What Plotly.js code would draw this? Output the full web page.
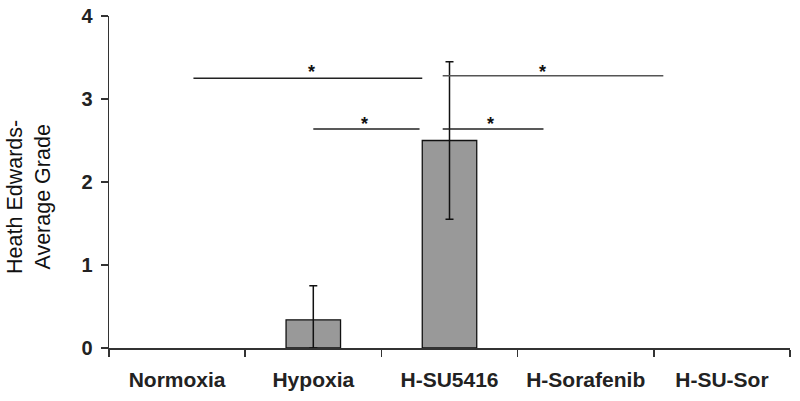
<!DOCTYPE html>
<html>
<head>
<meta charset="utf-8">
<script src="https://cdn.plot.ly/plotly-3.0.1.min.js"></script>
<style>
  html, body { margin: 0; padding: 0; background: #fff; }
  #chart { width: 800px; height: 401px; }
</style>
</head>
<body>
<div id="chart"></div>
<script>
// Heath Edwards grade per group
const categories = ["Normoxia", "Hypoxia", "H-SU5416", "H-Sorafenib", "H-SU-Sor"];
const grade = [0, 0.34, 2.5, 0, 0];
const errUp = [null, 0.41, 0.95, null, null];
const errDown = [null, 0.34, 0.95, null, null];

// significance brackets (category index from/to, grade level), star positions
const sigFrom = [0.12, 1.0, 1.95, 1.95];
const sigTo = [1.8, 1.78, 3.57, 2.69];
const sigLevel = [3.25, 2.64, 3.28, 2.64];
const starX = [0.99, 1.375, 2.68, 2.3];
const starLevel = [3.32, 2.7, 3.32, 2.7];
const sigColor = ["#222", "#222", "#555", "#222"];

const FONT = "Liberation Sans, Arial, sans-serif";

const bars = {
  type: "bar",
  x: categories,
  y: grade,
  width: 0.4,
  marker: {
    color: "#999999",
    // hide the zero-height stubs of empty groups
    opacity: grade.map((v) => (v > 0 ? 1 : 0)),
    line: { color: "#111", width: 1.3 },
  },
  hoverinfo: "x+y",
};

// error bars only where there is one (null would still draw a cap at 0)
const withErr = categories.map((c, i) => i).filter((i) => errUp[i] != null);
const errors = {
  type: "scatter",
  mode: "none",
  x: withErr.map((i) => categories[i]),
  y: withErr.map((i) => grade[i]),
  error_y: {
    type: "data",
    symmetric: false,
    array: withErr.map((i) => errUp[i]),
    arrayminus: withErr.map((i) => errDown[i]),
    color: "#111",
    thickness: 1.5,
    width: 4,
  },
  hoverinfo: "skip",
};

const shapes = sigFrom.map((x0, i) => ({
  type: "line",
  xref: "x",
  yref: "y",
  x0: x0,
  x1: sigTo[i],
  y0: sigLevel[i],
  y1: sigLevel[i],
  line: { color: sigColor[i], width: 1.5 },
}));

const annotations = starX.map((x, i) => ({
  x: x,
  y: starLevel[i],
  xref: "x",
  yref: "y",
  text: "<b>*</b>",
  showarrow: false,
  font: { family: FONT, size: 18, color: "#111" },
}));

// y axis title placed by hand, like the original figure
annotations.push({
  xref: "paper",
  yref: "paper",
  x: -0.1175,
  y: 0.455,
  xanchor: "center",
  yanchor: "middle",
  text: "Heath Edwards-<br>Average Grade",
  textangle: -90,
  showarrow: false,
  font: { family: FONT, size: 21.5, color: "#111" },
});

const layout = {
  width: 800,
  height: 401,
  margin: { l: 109, r: 10, t: 16, b: 53 },
  paper_bgcolor: "#fff",
  plot_bgcolor: "#fff",
  font: { family: FONT, color: "#222" },
  showlegend: false,
  xaxis: {
    type: "category",
    range: [-0.5, 4.5],
    showline: true,
    linecolor: "#333",
    linewidth: 1.5,
    ticks: "outside",
    tickson: "boundaries",
    ticklen: 7,
    tickwidth: 1.5,
    tickcolor: "#333",
    ticklabelstandoff: 12,
    showgrid: false,
    zeroline: false,
    tickfont: { family: FONT, size: 21, color: "#222", weight: "bold" },
  },
  yaxis: {
    range: [0, 4],
    dtick: 1,
    showline: true,
    linecolor: "#333",
    linewidth: 1.5,
    ticks: "outside",
    ticklen: 7,
    tickwidth: 1.5,
    tickcolor: "#333",
    ticklabelstandoff: 4,
    showgrid: false,
    zeroline: false,
    tickfont: { family: FONT, size: 20, color: "#222", weight: "bold" },
  },
  shapes: shapes,
  annotations: annotations,
};

Plotly.newPlot("chart", [bars, errors], layout, { displayModeBar: false, staticPlot: true });
</script>
</body>
</html>
